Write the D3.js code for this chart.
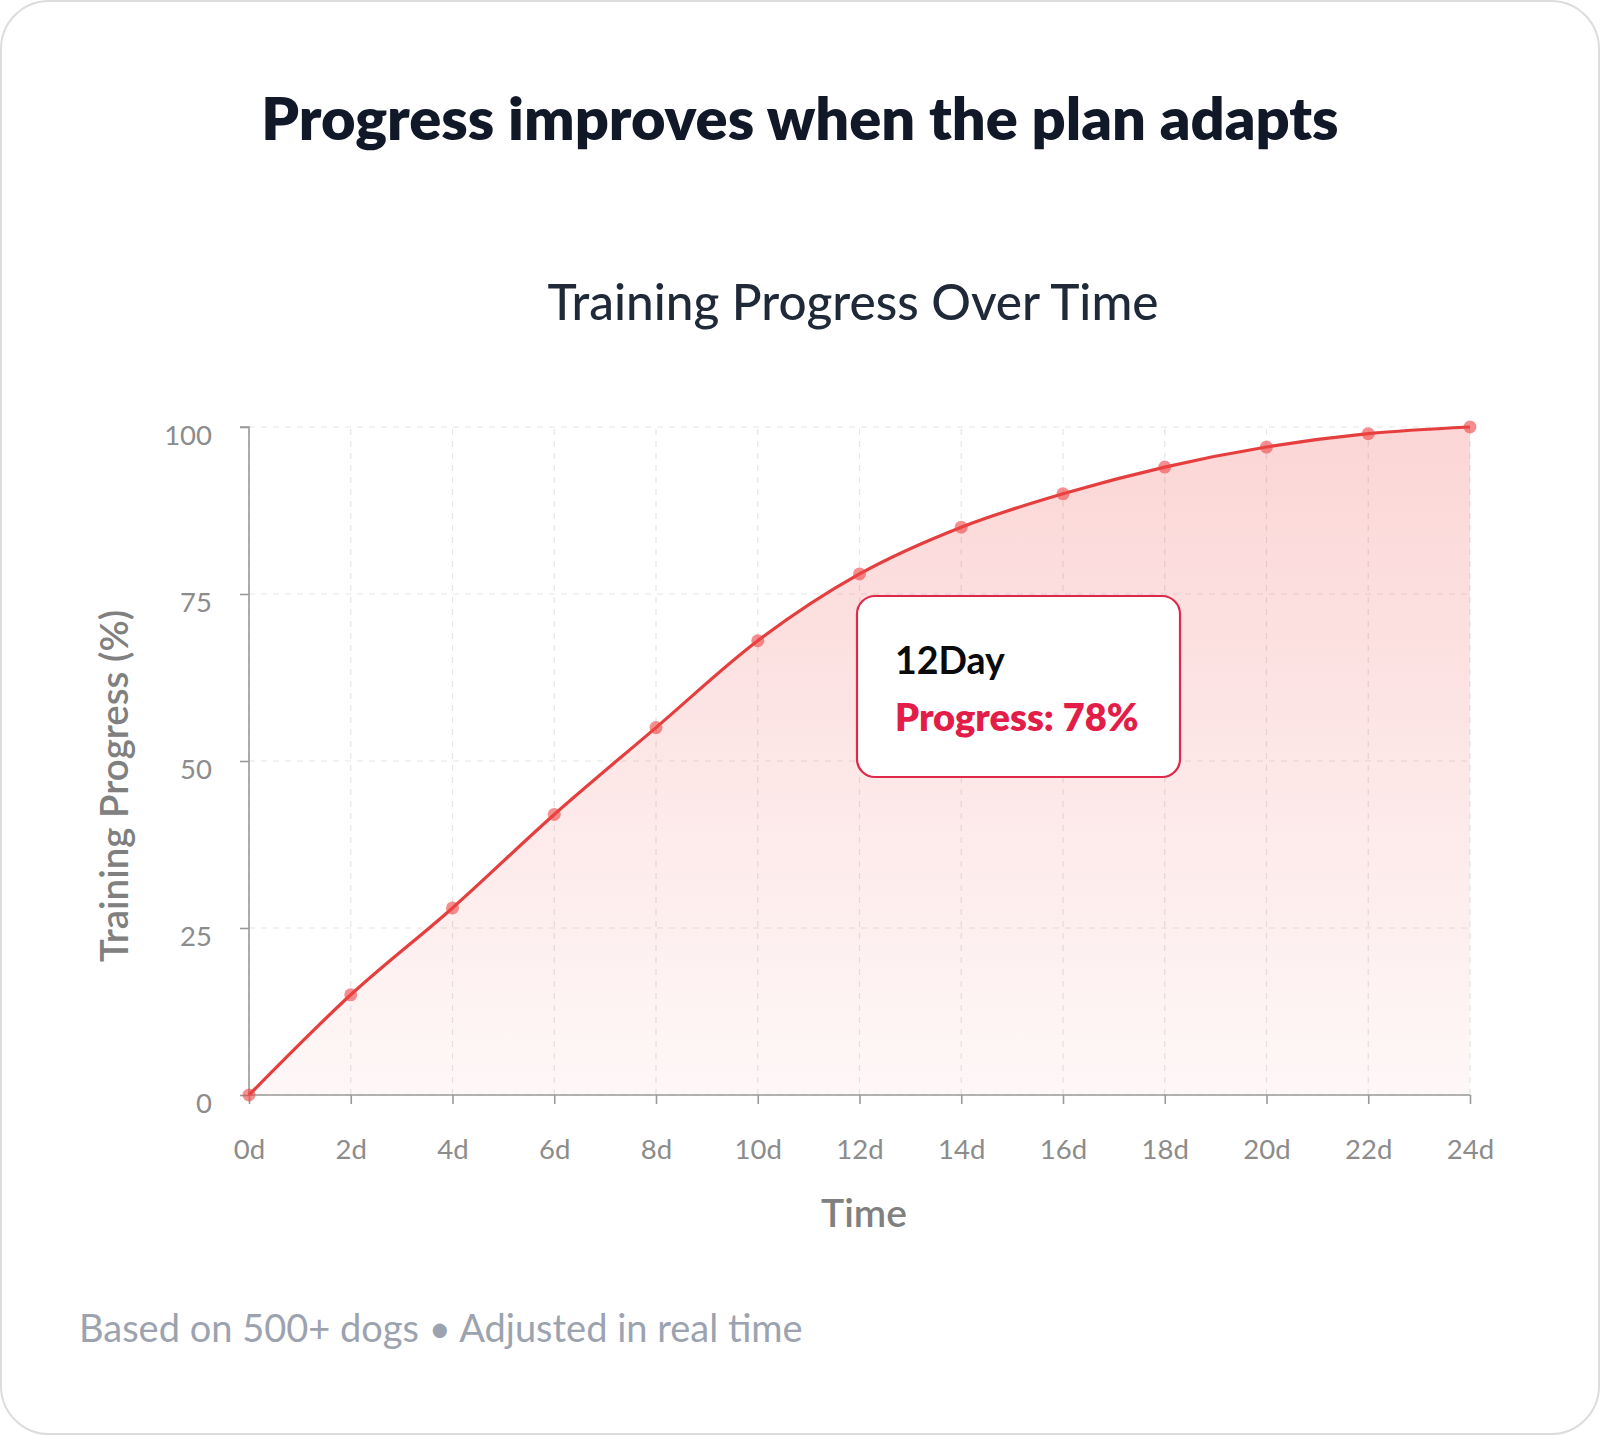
<!DOCTYPE html>
<html><head><meta charset="utf-8">
<script src="https://cdn.jsdelivr.net/npm/d3@7"></script>
<style>html,body{margin:0;padding:0;background:#fff;}svg{display:block;font-family:Lato,"Noto Sans",sans-serif;}</style>
</head><body>
<div id="chart"></div>
<script>
const days = [0,2,4,6,8,10,12,14,16,18,20,22,24];
const progress = [0,15,28,42,55,68,78,85,90,94,97,99,100];
const yTicks = [0,25,50,75,100];
const xTickLabels = days.map(d => d + "d");
const highlightDay = 12;

const W = 1600, H = 1435;
const svg = d3.select("#chart").append("svg").attr("width", W).attr("height", H);
const defs = svg.append("defs");
const grad = defs.append("linearGradient").attr("id","ag").attr("x1",0).attr("y1",0).attr("x2",0).attr("y2",1);
grad.append("stop").attr("offset","0%").attr("stop-color","#ef4444").attr("stop-opacity",0.22);
grad.append("stop").attr("offset","100%").attr("stop-color","#ef4444").attr("stop-opacity",0.04);

svg.append("rect").attr("x",1).attr("y",1).attr("width",W-2).attr("height",H-2).attr("rx",48)
  .attr("fill","#fff").attr("stroke","#dcdcdc").attr("stroke-width",2);

svg.append("text").attr("x",800).attr("y",140).attr("text-anchor","middle")
  .attr("font-size",59.5).attr("font-weight",800).attr("fill","#111827")
  .text("Progress improves when the plan adapts");

svg.append("text").attr("x",853).attr("y",320).attr("text-anchor","middle")
  .attr("font-size",49.5).attr("font-weight",500).attr("fill","#1f2937")
  .text("Training Progress Over Time");

const x = d3.scaleLinear().domain([0,24]).range([249,1470]);
const y = d3.scaleLinear().domain([0,100]).range([1095,427]);

// grid
const grid = svg.append("g");
grid.selectAll(".vg").data(days).join("line")
  .attr("x1",d=>x(d)).attr("x2",d=>x(d)).attr("y1",y(0)).attr("y2",y(100))
  .attr("stroke","#e6e6e6").attr("stroke-width",1.2).attr("stroke-dasharray","6,6");
grid.selectAll(".hg").data(yTicks).join("line")
  .attr("x1",x(0)).attr("x2",x(24)).attr("y1",d=>y(d)).attr("y2",d=>y(d))
  .attr("stroke","#e6e6e6").attr("stroke-width",1.2).attr("stroke-dasharray","6,6");

const data = days.map((d,i)=>({d, v: progress[i]}));
const area = d3.area().x(p=>x(p.d)).y0(y(0)).y1(p=>y(p.v)).curve(d3.curveMonotoneX);
const line = d3.line().x(p=>x(p.d)).y(p=>y(p.v)).curve(d3.curveMonotoneX);
svg.append("path").datum(data).attr("d",area).attr("fill","url(#ag)");

// axes
const xAxis = svg.append("g").attr("transform",`translate(0,${y(0)})`)
  .call(d3.axisBottom(x).tickValues(days).tickFormat((d,i)=>xTickLabels[i]).tickSize(9).tickPadding(35));
const yAxis = svg.append("g").attr("transform",`translate(${x(0)},0)`)
  .call(d3.axisLeft(y).tickValues(yTicks).tickSize(9).tickPadding(28));
[xAxis,yAxis].forEach(a=>{
  a.selectAll("path,line").attr("stroke","#9a9a9a").attr("stroke-width",1.6);
  a.selectAll("text").attr("fill","#8c8c8c").attr("font-size",27.5).attr("font-family","Lato, sans-serif");
});
xAxis.select(".domain").attr("d",`M${x(0)},0H${x(24)}`);
yAxis.select(".domain").attr("d",`M-9,${y(100)}H0V${y(0)}`);
yAxis.selectAll("text").attr("dy","0.62em");

svg.append("path").datum(data).attr("d",line).attr("fill","none").attr("stroke","#e53e3e").attr("stroke-width",3.2);
svg.selectAll(".pt").data(data).join("circle")
  .attr("cx",p=>x(p.d)).attr("cy",p=>y(p.v)).attr("r",6.5).attr("fill","#ef4444").attr("fill-opacity",0.6);

svg.append("text").attr("x",864).attr("y",1227).attr("text-anchor","middle")
  .attr("font-size",39).attr("font-weight",600).attr("fill","#808080").text("Time");
svg.append("text").attr("transform","translate(128,786) rotate(-90)").attr("text-anchor","middle")
  .attr("font-size",38.5).attr("font-weight",600).attr("fill","#808080").text("Training Progress (%)");

// tooltip
const hv = progress[days.indexOf(highlightDay)];
const tip = svg.append("g").attr("transform","translate(857,596)");
tip.append("rect").attr("width",323).attr("height",181).attr("rx",18)
  .attr("fill","#fff").attr("stroke","#e0294a").attr("stroke-width",2.2);
tip.append("text").attr("x",38).attr("y",78).attr("font-size",37.5).attr("font-weight",700).attr("fill","#0a0a0a")
  .text(highlightDay + "Day");
tip.append("text").attr("x",38).attr("y",135).attr("font-size",38).attr("font-weight",800).attr("fill","#e11d48")
  .text("Progress: " + hv + "%");

svg.append("text").attr("x",79).attr("y",1342).attr("font-size",38).attr("font-weight",400).attr("fill","#9ca3af")
  .text("Based on 500+ dogs • Adjusted in real time");
</script>
</body></html>
